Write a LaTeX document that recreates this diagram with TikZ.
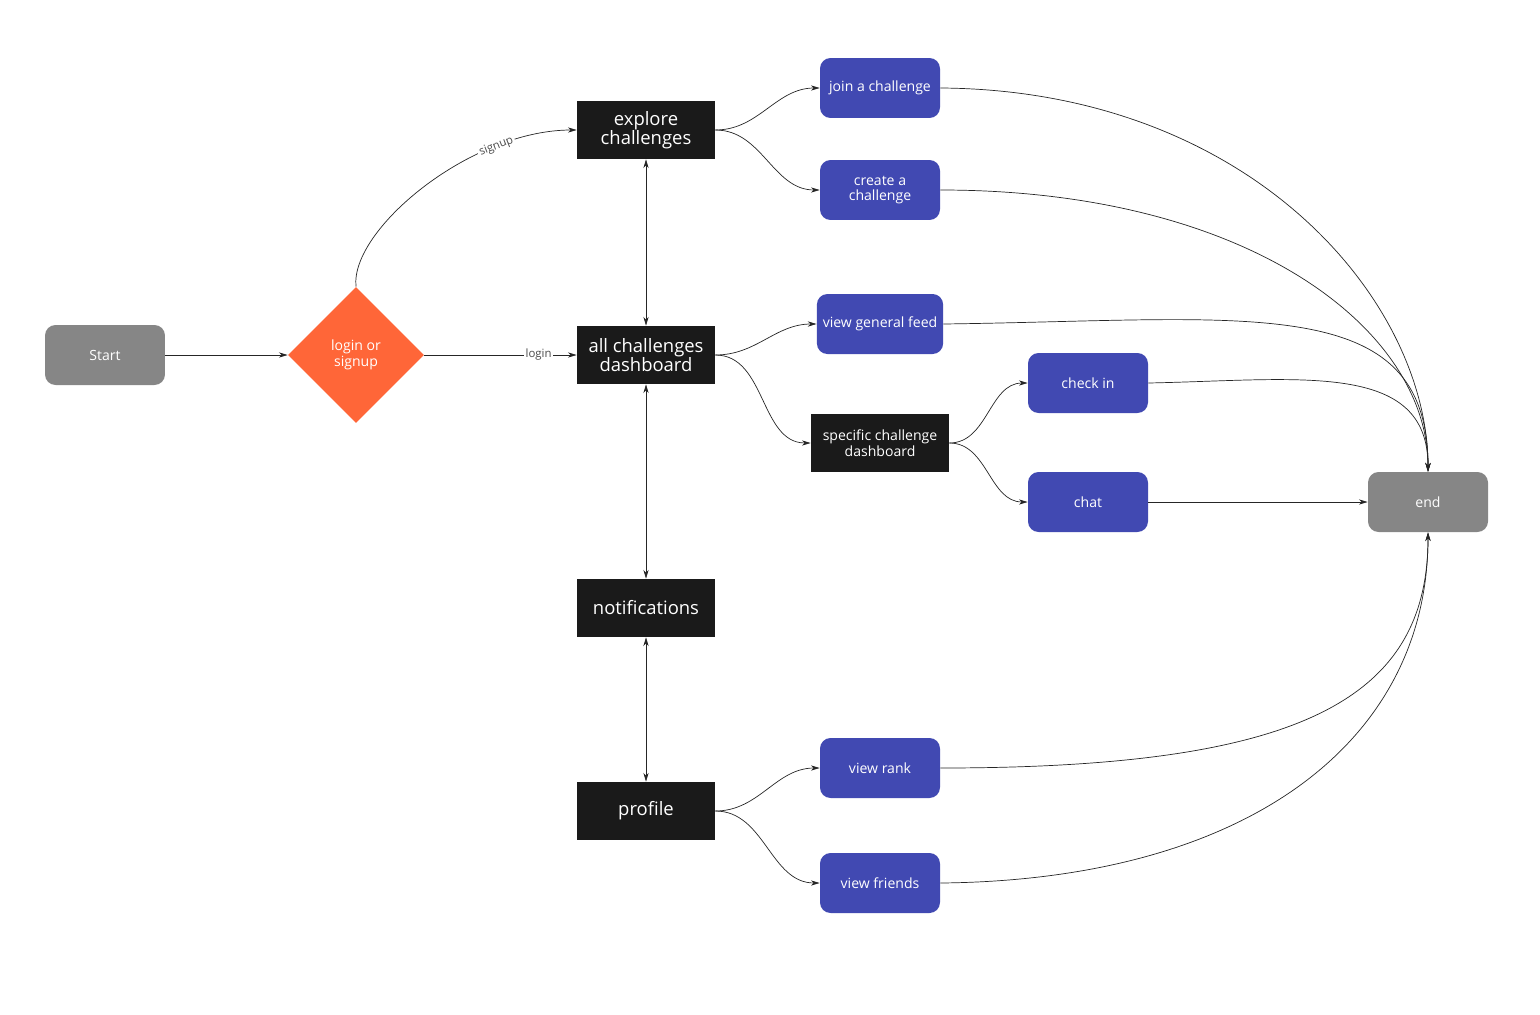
\documentclass[tikz,border=0pt]{standalone}
\usepackage{fontspec}
\setmainfont{Open Sans}
\usetikzlibrary{arrows.meta,shapes.geometric}
\definecolor{taskblue}{RGB}{65,73,178}
\definecolor{dark}{RGB}{26,26,26}
\definecolor{deco}{RGB}{255,102,56}
\begin{document}
\begin{tikzpicture}[
    x=0.02cm,y=-0.02cm,
    >={Stealth[length=5pt,width=3pt]},
    term/.style={rectangle,rounded corners=6pt,fill=gray!95!white,text=white,minimum width=2.4cm,minimum height=1.2cm,font=\fontsize{8}{9}\selectfont},
    task/.style={rectangle,rounded corners=6pt,fill=taskblue,text=white,minimum width=2.4cm,minimum height=1.2cm,align=center,font=\fontsize{8}{9}\selectfont},
    page/.style={rectangle,fill=dark,text=white,minimum width=2.76cm,minimum height=1.16cm,align=center,font=\fontsize{10.5}{11}\selectfont},
    subpage/.style={page,font=\fontsize{8}{9}\selectfont},
    link/.style={->,draw=black!85,line width=0.4pt},
    tag/.style={fill=white,inner sep=1pt,font=\fontsize{6.5}{7}\selectfont,text=black!70}
]
    \useasboundingbox (0,0) rectangle (1540,1014);
    % Nodes
    \node[term] (start) at (105,355) {Start};
    \node[diamond,fill=deco,text=white,minimum width=2.72cm,minimum height=2.72cm,inner sep=0pt,align=center,font=\fontsize{8}{9}\selectfont] (login) at (356,355) {login or\\signup};
    \node[page] (explore) at (646,130) {explore\\challenges};
    \node[page] (dash) at (646,355) {all challenges\\dashboard};
    \node[page] (notif) at (646,608) {notifications};
    \node[page] (profile) at (646,811) {profile};
    \node[task] (join) at (880,88) {join a challenge};
    \node[task] (create) at (880,190) {create a\\challenge};
    \node[task] (feed) at (880,324) {view general feed};
    \node[subpage] (spec) at (880,443) {specific challenge\\dashboard};
    \node[task] (checkin) at (1088,383) {check in};
    \node[task] (chat) at (1088,502) {chat};
    \node[task] (rank) at (880,768) {view rank};
    \node[task] (friends) at (880,883) {view friends};
    \node[term] (end) at (1428,502) {end};

    % Connectors
    \draw[link] (start) -- (login);
    \draw[link] (login) -- node[tag,pos=0.75] {login} (dash);
    \draw[link] (login.north) .. controls (350,230) and (470,130) .. node[tag,pos=0.75,sloped] {signup} (explore.west);
    \draw[link,<->] (explore) -- (dash);
    \draw[link,<->] (dash) -- (notif);
    \draw[link,<->] (notif) -- (profile);
    \draw[link] (explore.east) to[out=0,in=180] (join.west);
    \draw[link] (explore.east) to[out=0,in=180] (create.west);
    \draw[link] (dash.east) to[out=0,in=180] (feed.west);
    \draw[link] (dash.east) to[out=0,in=180] (spec.west);
    \draw[link] (spec.east) to[out=0,in=180] (checkin.west);
    \draw[link] (spec.east) to[out=0,in=180] (chat.west);
    \draw[link] (profile.east) to[out=0,in=180] (rank.west);
    \draw[link] (profile.east) to[out=0,in=180] (friends.west);

    % To end
    \draw[link] (join.east) .. controls (1250,90) and (1428,300) .. (end.north);
    \draw[link] (create.east) .. controls (1250,190) and (1428,330) .. (end.north);
    \draw[link] (feed.east) .. controls (1250,320) and (1428,290) .. (end.north);
    \draw[link] (checkin.east) .. controls (1300,380) and (1428,360) .. (end.north);
    \draw[link] (chat) -- (end);
    \draw[link] (rank.east) .. controls (1300,768) and (1428,700) .. (end.south);
    \draw[link] (friends.east) .. controls (1250,880) and (1428,740) .. (end.south);
\end{tikzpicture}
\end{document}
